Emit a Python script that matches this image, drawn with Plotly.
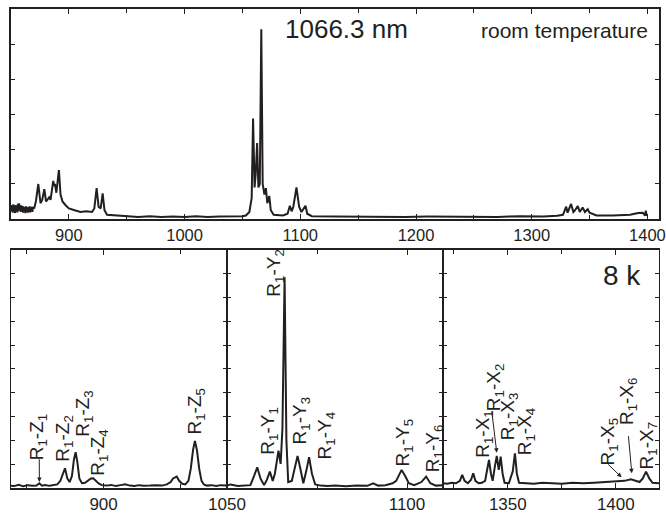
import plotly.graph_objects as go

# ---------------- room-temperature spectrum (nm, arb. units) ----------------
wl_rt = [850.0, 850.5, 851.0, 851.5, 852.0, 852.5, 853.0, 853.5, 854.0, 854.5,
         855.0, 855.5, 856.0, 856.5, 857.0, 857.5, 858.0, 858.5, 859.0, 859.5,
         860.0, 860.5, 861.0, 861.5, 862.0, 862.5, 863.0, 863.5, 864.0, 864.5,
         865.0, 865.5, 866.0, 866.5, 867.0, 867.5, 868.0, 868.5, 869.0, 870.0,
         871.5, 873.6, 875.5, 877.0, 878.8, 880.3, 881.5, 883.0, 884.2, 885.5,
         886.5, 887.3, 888.0, 889.2, 891.4, 892.8, 894.5, 897.0, 900.0, 905.0,
         910.0, 915.0, 920.0, 922.0, 924.0, 925.7, 927.5, 929.2, 930.8, 933.0,
         940.0, 950.0, 960.0, 970.0, 980.0, 990.0, 1000.0, 1010.0, 1020.0, 1030.0,
         1040.0, 1050.0, 1053.0, 1056.0, 1058.0, 1059.2, 1060.5, 1061.5, 1062.7, 1063.8,
         1065.0, 1066.3, 1067.5, 1069.0, 1070.3, 1071.5, 1073.2, 1074.5, 1077.0, 1085.0,
         1089.0, 1091.0, 1092.5, 1094.0, 1096.7, 1099.0, 1101.0, 1104.5, 1106.0, 1110.0,
         1130.0, 1150.0, 1170.0, 1190.0, 1210.0, 1230.0, 1250.0, 1270.0, 1290.0, 1310.0,
         1322.0, 1327.0, 1329.8, 1331.0, 1334.0, 1336.0, 1337.5, 1339.8, 1341.5, 1344.0,
         1346.0, 1348.4, 1350.0, 1353.0, 1356.0, 1370.0, 1385.0, 1392.0, 1396.0, 1398.0,
         1398.6, 1399.2, 1400.0]
int_rt = [0.40, 0.22, 0.38, 0.18, 0.42, 0.25, 0.36, 0.17, 0.40, 0.24,
          0.35, 0.19, 0.43, 0.22, 0.45, 0.26, 0.40, 0.20, 0.38, 0.23,
          0.37, 0.18, 0.35, 0.22, 0.33, 0.17, 0.36, 0.21, 0.34, 0.18,
          0.33, 0.20, 0.36, 0.19, 0.32, 0.22, 0.35, 0.20, 0.34, 0.30,
          0.50, 1.00, 0.45, 0.55, 0.85, 0.50, 0.55, 0.62, 0.55, 0.85,
          1.09, 0.95, 1.00, 0.75, 1.40, 0.70, 0.50, 0.40, 0.30, 0.25,
          0.20, 0.22, 0.20, 0.30, 0.88, 0.35, 0.30, 0.73, 0.25, 0.12,
          0.10, 0.07, 0.06, 0.08, 0.06, 0.07, 0.06, 0.08, 0.06, 0.07,
          0.07, 0.08, 0.10, 0.20, 0.60, 2.87, 0.90, 1.30, 2.17, 0.90,
          1.00, 5.42, 1.00, 0.70, 0.88, 0.45, 0.66, 0.25, 0.12, 0.10,
          0.15, 0.38, 0.22, 0.35, 0.90, 0.35, 0.20, 0.38, 0.15, 0.08,
          0.07, 0.06, 0.07, 0.06, 0.07, 0.06, 0.07, 0.06, 0.08, 0.07,
          0.09, 0.12, 0.35, 0.18, 0.43, 0.20, 0.25, 0.37, 0.20, 0.33,
          0.20, 0.28, 0.18, 0.15, 0.10, 0.10, 0.12, 0.17, 0.18, 0.10,
          0.24, 0.12, 0.10]

# ---------------- 8 K spectrum, R1 -> Z manifold ----------------
wl_z = [840.0, 842.0, 845.0, 848.0, 851.0, 854.0, 856.5, 858.4, 860.0, 862.0,
        865.0, 868.0, 870.0, 872.0, 873.5, 875.0, 876.5, 878.0, 879.5, 880.8,
        881.9, 883.0, 884.3, 886.0, 888.0, 890.0, 891.8, 893.3, 895.0, 897.0,
        899.0, 902.0, 905.0, 908.0, 911.0, 914.0, 917.0, 920.0, 923.0, 926.0,
        930.0, 934.0, 938.0, 941.0, 943.5, 945.0, 947.4, 949.0, 951.0, 953.0,
        955.0, 956.5, 958.0, 959.2, 960.5, 962.0, 963.5, 965.0, 967.0, 970.0,
        973.0, 976.0, 980.0]
int_z = [0.10, 0.08, 0.13, 0.07, 0.12, 0.09, 0.10, 0.20, 0.10, 0.13,
         0.09, 0.12, 0.15, 0.30, 0.60, 0.83, 0.40, 0.25, 0.50, 1.20,
         1.50, 1.10, 0.40, 0.20, 0.22, 0.30, 0.40, 0.41, 0.30, 0.18,
         0.12, 0.10, 0.13, 0.08, 0.12, 0.16, 0.10, 0.08, 0.12, 0.09,
         0.10, 0.12, 0.10, 0.15, 0.25, 0.40, 0.48, 0.30, 0.18, 0.15,
         0.30, 0.80, 1.60, 1.98, 1.60, 0.80, 0.30, 0.15, 0.10, 0.12,
         0.08, 0.12, 0.10]

# ---------------- 8 K spectrum, R1 -> Y manifold ----------------
wl_y = [1050.0, 1051.0, 1053.0, 1055.0, 1056.5, 1057.5, 1058.4, 1059.3, 1060.3, 1061.1,
        1061.9, 1062.7, 1063.3, 1064.3, 1064.9, 1065.4, 1066.0, 1066.5, 1067.0, 1068.0,
        1068.8, 1069.6, 1070.4, 1071.2, 1072.0, 1072.8, 1073.6, 1074.5, 1076.0, 1078.0,
        1080.0, 1083.0, 1086.0, 1089.0, 1090.6, 1092.0, 1094.0, 1096.0, 1097.0, 1098.5,
        1099.5, 1100.5, 1102.0, 1104.0, 1105.3, 1106.5, 1108.0, 1110.0]
int_y = [0.10, 0.15, 0.08, 0.10, 0.12, 0.50, 0.87, 0.40, 0.12, 0.35,
         0.69, 0.30, 0.60, 1.57, 1.01, 2.50, 8.85, 2.00, 0.25, 0.30,
         0.90, 1.35, 0.80, 0.20, 0.70, 1.29, 0.60, 0.15, 0.10, 0.08,
         0.11, 0.07, 0.10, 0.09, 0.20, 0.10, 0.12, 0.20, 0.30, 0.76,
         0.50, 0.20, 0.12, 0.25, 0.48, 0.20, 0.10, 0.12]

# ---------------- 8 K spectrum, R1 -> X manifold ----------------
wl_x = [1320.0, 1322.0, 1324.0, 1326.0, 1327.8, 1328.9, 1330.0, 1331.5, 1333.0, 1334.0,
        1335.0, 1336.5, 1338.0, 1339.5, 1340.5, 1341.3, 1342.2, 1343.0, 1344.0, 1344.9,
        1345.8, 1346.7, 1347.6, 1348.5, 1350.5, 1352.3, 1353.3, 1354.2, 1355.2, 1358.0,
        1362.0, 1366.0, 1370.0, 1375.0, 1380.0, 1385.0, 1390.0, 1395.0, 1400.0, 1404.0,
        1407.0, 1409.0, 1411.0, 1412.5, 1414.0, 1415.5, 1417.0, 1420.0]
int_x = [0.20, 0.18, 0.22, 0.20, 0.30, 0.55, 0.30, 0.20, 0.35, 0.62,
         0.30, 0.20, 0.22, 0.30, 0.80, 1.18, 0.60, 0.30, 0.90, 1.35,
         0.76, 1.32, 0.60, 0.22, 0.20, 0.70, 1.46, 0.60, 0.22, 0.20,
         0.18, 0.22, 0.20, 0.18, 0.22, 0.20, 0.22, 0.25, 0.28, 0.30,
         0.37, 0.30, 0.25, 0.40, 0.69, 0.40, 0.22, 0.20]

# ---------------- transition labels (text, x, y) ----------------
labels_z = [("R<sub>1</sub>-Z<sub>1</sub>", 857.2, 2.11),
            ("R<sub>1</sub>-Z<sub>2</sub>", 874.3, 2.07),
            ("R<sub>1</sub>-Z<sub>3</sub>", 887.3, 3.12),
            ("R<sub>1</sub>-Z<sub>4</sub>", 897.0, 1.48),
            ("R<sub>1</sub>-Z<sub>5</sub>", 959.9, 3.21)]
labels_y = [("R<sub>1</sub>-Y<sub>1</sub>", 1061.7, 2.41),
            ("R<sub>1</sub>-Y<sub>2</sub>", 1063.1, 9.05),
            ("R<sub>1</sub>-Y<sub>3</sub>", 1070.5, 2.83),
            ("R<sub>1</sub>-Y<sub>4</sub>", 1077.4, 2.19),
            ("R<sub>1</sub>-Y<sub>5</sub>", 1099.2, 1.92),
            ("R<sub>1</sub>-Y<sub>6</sub>", 1107.5, 1.67)]
labels_x = [("R<sub>1</sub>-X<sub>1</sub>", 1339.0, 2.28),
            ("R<sub>1</sub>-X<sub>2</sub>", 1344.1, 4.24),
            ("R<sub>1</sub>-X<sub>3</sub>", 1350.6, 3.02),
            ("R<sub>1</sub>-X<sub>4</sub>", 1358.4, 2.38),
            ("R<sub>1</sub>-X<sub>5</sub>", 1396.9, 1.96),
            ("R<sub>1</sub>-X<sub>6</sub>", 1405.4, 3.67),
            ("R<sub>1</sub>-X<sub>7</sub>", 1414.7, 1.77)]

# pointer lines: (axis suffix, tail x, tail y, head x, head y)
pointers = [("2", 858.3, 1.27, 858.4, 0.25),
            ("4", 1342.5, 3.29, 1344.9, 1.48),
            ("4", 1395.8, 1.05, 1402.7, 0.45),
            ("4", 1405.8, 2.24, 1407.4, 0.62)]

INK = "#231f20"
FONT = "Liberation Sans, Arial, sans-serif"

fig = go.Figure()
line = dict(color=INK, width=2)
fig.add_trace(go.Scatter(x=wl_rt, y=int_rt, mode="lines", line=line, xaxis="x", yaxis="y"))
fig.add_trace(go.Scatter(x=wl_z, y=int_z, mode="lines", line=line, xaxis="x2", yaxis="y2"))
fig.add_trace(go.Scatter(x=wl_y, y=int_y, mode="lines", line=line, xaxis="x3", yaxis="y3"))
fig.add_trace(go.Scatter(x=wl_x, y=int_x, mode="lines", line=line, xaxis="x4", yaxis="y4"))


def xax(domain, rng, dtick, minor, size, anchor):
    return dict(domain=domain, range=rng, dtick=dtick, tick0=0, anchor=anchor,
                automargin=False,
                ticks="inside", ticklen=5, tickwidth=1, tickcolor=INK,
                minor=dict(dtick=minor, tick0=0, ticks="inside", ticklen=4,
                           tickwidth=1, tickcolor=INK, showgrid=False),
                showline=True, linecolor=INK, linewidth=1.5, mirror="allticks",
                showgrid=False, zeroline=False,
                tickfont=dict(family=FONT, size=size, color=INK))


def yax(domain, rng, anchor, lw):
    return dict(domain=domain, range=rng, dtick=1, tick0=0, anchor=anchor,
                automargin=False,
                ticks="inside", ticklen=4, tickwidth=1, tickcolor=INK,
                showline=True, linecolor=INK, linewidth=lw, mirror="allticks",
                showgrid=False, zeroline=False, showticklabels=False)


# plot area spans y = 9 .. 488 px
top_dom = [0.5616, 1.0]
bot_dom = [0.0, 0.4969]
fig.update_layout(
    template="none",
    width=666, height=513,
    margin=dict(l=11, r=7, t=9, b=25, pad=0),
    paper_bgcolor="white", plot_bgcolor="white",
    showlegend=False,
    xaxis=xax([0, 1], [850, 1410], 100, 50, 16.5, "y"),
    yaxis=yax(top_dom, [0, 6], "x", 1.5),
    xaxis2=xax([0, 1 / 3], [840, 980], 100, 50, 17, "y2"),
    yaxis2=yax(bot_dom, [0, 10], "x2", 1),
    xaxis3=xax([1 / 3, 2 / 3], [1050, 1110], 50, 25, 17, "y3"),
    yaxis3=yax(bot_dom, [0, 10], "x3", 1),
    xaxis4=xax([2 / 3, 1], [1320, 1420], 50, 25, 17, "y4"),
    yaxis4=yax(bot_dom, [0, 10], "x4", 1),
)

ann = []
for group, ax in ((labels_z, "2"), (labels_y, "3"), (labels_x, "4")):
    for txt, xv, yv in group:
        ann.append(dict(text=txt, x=xv, y=yv, xref="x" + ax, yref="y" + ax,
                        textangle=-90, showarrow=False, xanchor="center",
                        yanchor="middle",
                        font=dict(family=FONT, size=19, color=INK)))

for ax, tx, ty, hx, hy in pointers:
    ann.append(dict(text="", x=hx, y=hy, ax=tx, ay=ty,
                    xref="x" + ax, yref="y" + ax, axref="x" + ax, ayref="y" + ax,
                    showarrow=True, arrowhead=2, arrowsize=0.9, arrowwidth=1,
                    arrowcolor=INK))


def paper_text(txt, xp, yp, size):
    return dict(text=txt, x=(xp - 11) / 648, y=(488 - yp) / 479,
                xref="paper", yref="paper", showarrow=False,
                xanchor="center", yanchor="middle",
                font=dict(family=FONT, size=size, color=INK))


ann.append(paper_text("1066.3 nm", 346, 29, 26))
ann.append(paper_text("room temperature", 564, 31, 21))
ann.append(paper_text("8 k", 621.5, 275, 28))
fig.update_layout(annotations=ann)

fig.write_html("out.html")
